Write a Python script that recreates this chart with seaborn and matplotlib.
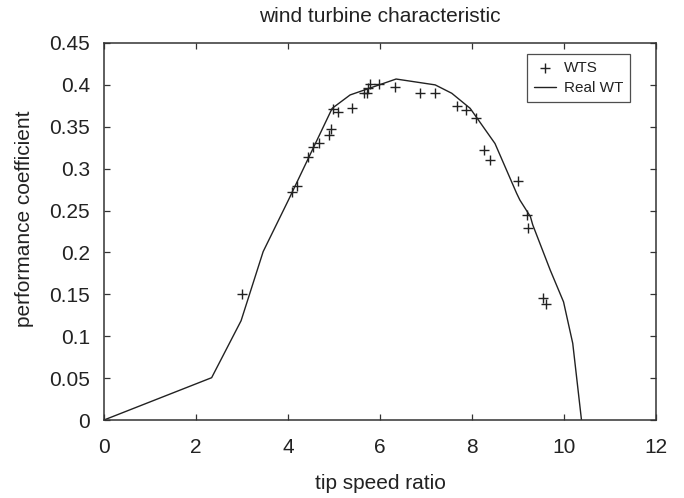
import matplotlib
matplotlib.use("Agg")
import matplotlib.pyplot as plt
import seaborn as sns
import pandas as pd

# Real wind turbine curve (tip speed ratio, performance coefficient)
real_tsr = [0.0, 2.34, 2.98, 3.46, 4.01, 4.96, 5.35, 6.35, 7.20, 7.56, 7.96,
            8.50, 8.97, 9.04, 9.27, 9.32, 9.70, 9.99, 10.19, 10.38]
real_cp = [0.0, 0.0505, 0.1185, 0.201, 0.2626, 0.372, 0.388, 0.407, 0.400, 0.390, 0.372,
           0.330, 0.2706, 0.2626, 0.2427, 0.233, 0.179, 0.141, 0.0915, 0.0]

# WTS measured points
wts_tsr = [3.01, 4.08, 4.19, 4.44, 4.55, 4.67, 4.89, 4.93, 4.98, 5.08, 5.40,
           5.66, 5.71, 5.73, 5.78, 5.98, 6.33, 6.86, 7.20, 7.68, 7.87, 8.09,
           8.25, 8.39, 8.99, 9.19, 9.21, 9.55, 9.60]
wts_cp = [0.1508, 0.2725, 0.2797, 0.3135, 0.3255, 0.331, 0.340, 0.347, 0.371, 0.368, 0.373,
          0.390, 0.390, 0.396, 0.4006, 0.4006, 0.398, 0.390, 0.390, 0.375, 0.370, 0.361,
          0.322, 0.310, 0.2857, 0.2447, 0.2297, 0.146, 0.139]

x_ticks = [0, 2, 4, 6, 8, 10, 12]
y_ticks = [0, 0.05, 0.1, 0.15, 0.2, 0.25, 0.3, 0.35, 0.4, 0.45]
y_tick_labels = ["0", "0.05", "0.1", "0.15", "0.2", "0.25", "0.3", "0.35", "0.4", "0.45"]

sns.set_style("ticks")
plt.rcParams['font.family'] = ['Liberation Sans', 'DejaVu Sans']

ink = "#222222"
fig = plt.figure(figsize=(6.84, 4.98), dpi=100)
ax = fig.add_axes([104/684, 1-420/498, 552/684, 377/498])

wts_df = pd.DataFrame({"tsr": wts_tsr, "cp": wts_cp})
real_df = pd.DataFrame({"tsr": real_tsr, "cp": real_cp})

sns.scatterplot(data=wts_df, x="tsr", y="cp", marker="+", s=55, color=ink,
                linewidth=1.0, ax=ax, label="WTS", zorder=3)
sns.lineplot(data=real_df, x="tsr", y="cp", sort=False, estimator=None,
             color=ink, linewidth=1.0, ax=ax, label="Real WT")

ax.set_xlim(0, 12)
ax.set_ylim(0, 0.45)
ax.set_xticks(x_ticks)
ax.set_xticklabels([str(t) for t in x_ticks])
ax.set_yticks(y_ticks)
ax.set_yticklabels(y_tick_labels)

for sp in ax.spines.values():
    sp.set_visible(True)
    sp.set_color("#333333")
    sp.set_linewidth(1.1)

ax.tick_params(axis="both", direction="in", length=4, width=0.9, color="#333333",
               labelsize=15, labelcolor=ink, top=True, right=True)
ax.tick_params(axis="x", pad=13)
ax.tick_params(axis="y", pad=10)

ax.set_xlabel("tip speed ratio", fontsize=15, color=ink)
ax.set_ylabel("performance coefficient", fontsize=15, color=ink)
ax.xaxis.set_label_coords(0.5, -0.143)
ax.yaxis.set_label_coords(-0.127, 0.533)
ax.set_title("wind turbine characteristic", fontsize=15, color=ink, y=1.0557, pad=0)

leg = ax.legend(loc="upper right", bbox_to_anchor=((630-104)/552, (420-54)/377),
                borderaxespad=0, fontsize=11, frameon=True, fancybox=False,
                edgecolor="#222222", handlelength=1.45, handletextpad=0.5,
                borderpad=0.45, labelspacing=0.4)
leg.get_frame().set_linewidth(0.9)
for t in leg.get_texts():
    t.set_color(ink)

fig.savefig("out.png", dpi=100)
